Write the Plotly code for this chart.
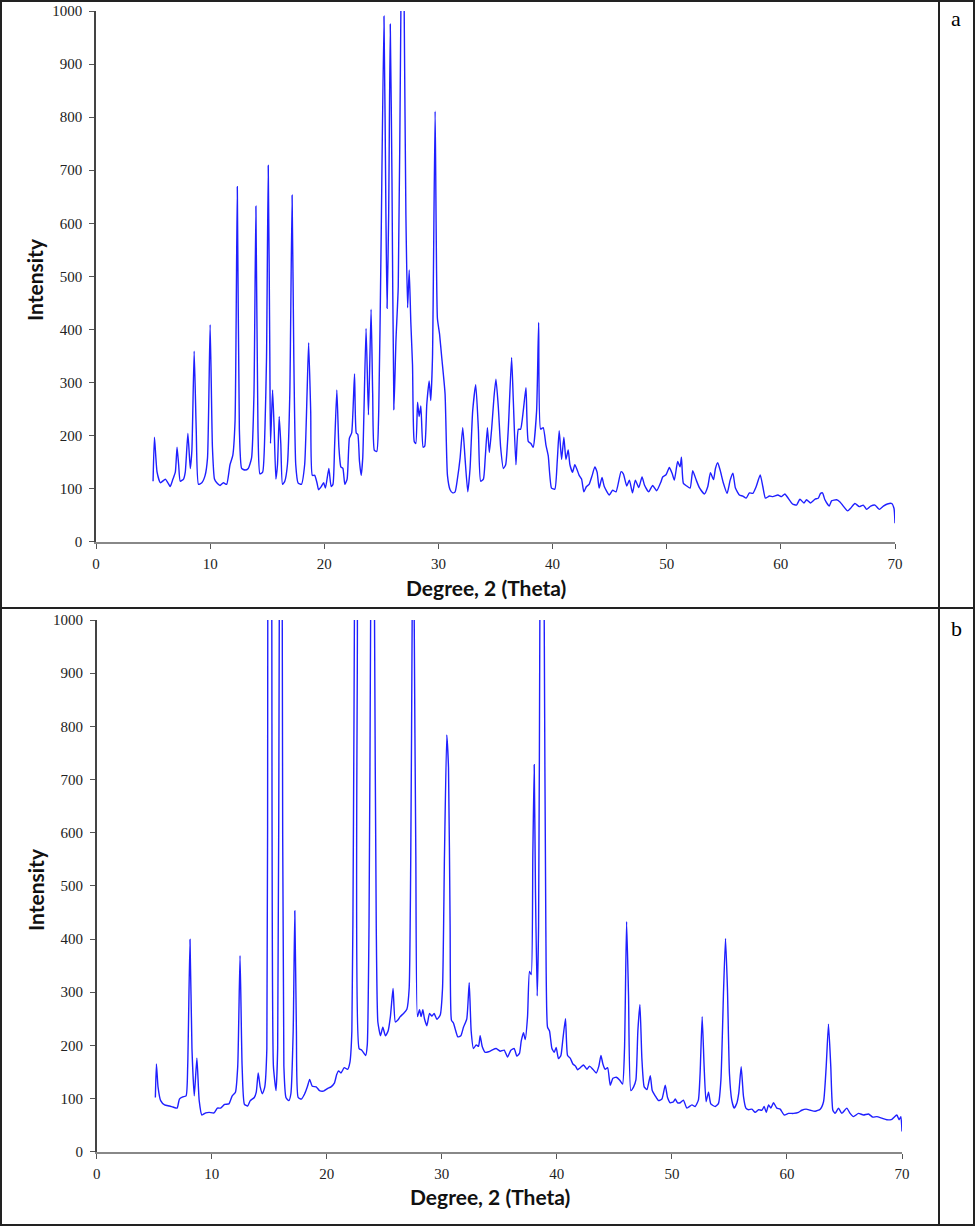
import plotly.graph_objects as go

# ---------------- data ----------------
a_x = [5.0, 5.12, 5.35, 5.64, 6.08, 6.3, 6.5, 6.74, 6.95, 7.1, 7.24, 7.38, 7.67, 7.82, 8.05, 8.26, 8.4, 8.6, 8.78,
       8.98, 9.27, 9.56, 9.77, 10.0, 10.2, 10.38, 10.58, 10.87, 11.16, 11.45, 11.74, 11.98, 12.18, 12.38, 12.56,
       12.76, 13.05, 13.34, 13.63, 13.84, 14.01, 14.19, 14.36, 14.6, 14.8, 14.94, 15.09, 15.23, 15.29, 15.47,
       15.61, 15.76, 15.9, 16.05, 16.19, 16.34, 16.54, 16.77, 16.98, 17.18, 17.33, 17.5, 17.7, 17.99, 18.28,
       18.49, 18.63, 18.81, 18.95, 19.16, 19.36, 19.5, 19.74, 19.94, 20.1, 20.4, 20.6, 20.76, 20.9, 21.1, 21.28,
       21.45, 21.63, 21.8, 22.0, 22.2, 22.4, 22.65, 22.8, 22.94, 23.08, 23.23, 23.37, 23.66, 23.87, 24.1, 24.24,
       24.39, 24.6, 24.77, 24.97, 25.23, 25.4, 25.5, 25.64, 25.78, 25.93, 26.1, 26.28, 26.48, 26.71, 26.85, 27.0,
       27.15, 27.3, 27.44, 27.58, 27.73, 27.88, 28.02, 28.17, 28.31, 28.46, 28.66, 28.8, 28.98, 29.19, 29.33,
       29.48, 29.71, 29.91, 30.1, 30.29, 30.58, 30.79, 31.02, 31.25, 31.46, 31.66, 31.9, 32.13, 32.33, 32.57,
       32.77, 33.0, 33.27, 33.5, 33.7, 33.94, 34.1, 34.29, 34.46, 34.66, 34.87, 35.04, 35.25, 35.45, 35.69,
       35.89, 36.12, 36.41, 36.56, 36.79, 37.0, 37.2, 37.43, 37.67, 37.87, 38.1, 38.3, 38.6, 38.78, 38.95, 39.18,
       39.42, 39.62, 39.91, 40.2, 40.41, 40.58, 40.79, 40.99, 41.17, 41.37, 41.52, 41.75, 41.95, 42.16, 42.33,
       42.54, 42.74, 42.97, 43.2, 43.47, 43.7, 43.9, 44.08, 44.33, 44.53, 44.97, 45.26, 45.56, 46.0, 46.2,
       46.5, 46.73, 47.0, 47.25, 47.55, 47.84, 48.05, 48.42, 48.77, 49.12, 49.5, 49.65, 49.94, 50.23, 50.47,
       50.67, 50.96, 51.17, 51.29, 51.46, 51.75, 52.05, 52.28, 52.57, 52.86, 53.3, 53.6, 53.83, 54.1, 54.27,
       54.47, 54.68, 54.97, 55.29, 55.56, 55.8, 56.02, 56.37, 56.67, 56.96, 57.25, 57.54, 57.84, 58.19, 58.42,
       58.65, 59.0, 59.3, 59.74, 60.06, 60.35, 60.64, 61.02, 61.37, 61.67, 62.02, 62.25, 62.6, 62.98, 63.27,
       63.48, 63.65, 63.86, 64.24, 64.44, 64.88, 65.18, 65.47, 65.85, 66.11, 66.49, 66.87, 67.22, 67.51, 67.87,
       68.25, 68.63, 68.98, 69.33, 69.71, 69.91, 70.0]
a_y = [114, 197, 131, 111, 118, 111, 104, 118, 131, 178, 145, 114, 118, 131, 204, 138, 172, 359, 212,
       108, 111, 125, 158, 409, 178, 118, 111, 106, 111, 108, 145, 162, 226, 669, 212,
       138, 135, 138, 158, 279, 632, 212, 128, 131, 212, 347, 709, 347, 185, 286,
       212, 118, 145, 236, 185, 108, 114, 145, 279, 653, 347, 145, 111, 108, 145,
       279, 375, 246, 125, 125, 111, 98, 104, 111, 101, 138, 104, 108, 178, 286, 178,
       141, 138, 108, 118, 195, 205, 316, 205, 202, 152, 125, 158, 402, 239, 438, 279,
       172, 170, 246, 549, 990, 616, 440, 616, 975, 684, 249, 380, 481, 1000, 1350, 1000,
       616, 441, 512, 414, 333, 189, 185, 263, 236, 256, 178, 180, 259, 303, 266,
       347, 811, 421, 391, 347, 279, 125, 98, 92, 94, 118, 158, 215, 158, 94,
       138, 246, 296, 212, 114, 118, 158, 215, 168, 212, 273, 306, 253, 178, 138,
       145, 212, 347, 266, 145, 212, 212, 246, 290, 189, 185, 178, 246, 413, 212, 215,
       182, 162, 101, 99, 152, 209, 155, 197, 155, 173, 145, 131, 145, 135, 125,
       118, 94, 104, 108, 125, 141, 131, 101, 121, 104, 88, 97, 94, 132, 128,
       105, 116, 92, 116, 102, 122, 107, 94, 106, 96, 113, 122, 126, 140, 129,
       116, 151, 141, 159, 110, 105, 101, 134, 117, 102, 90, 104, 130, 117, 138,
       149, 135, 110, 91, 116, 129, 101, 88, 86, 82, 92, 91, 104, 126, 104,
       82, 86, 85, 88, 85, 90, 82, 71, 69, 80, 73, 79, 73, 80, 82,
       91, 92, 79, 67, 77, 79, 75, 67, 58, 63, 72, 66, 69, 61, 67,
       69, 61, 67, 71, 72, 63, 35]

b_x = [5.1, 5.19, 5.33, 5.56, 5.9, 6.33, 6.62, 6.99, 7.19, 7.48, 7.77, 7.91, 8.11, 8.28, 8.48, 8.71, 8.91,
       9.14, 9.48, 9.77, 10.2, 10.49, 10.77, 11.12, 11.49, 11.78, 12.06, 12.26, 12.46, 12.64, 12.84, 13.12,
       13.35, 13.7, 13.87, 14.04, 14.21, 14.41, 14.61, 14.79, 14.87, 15.05, 15.22, 15.36, 15.59, 15.73, 15.87,
       16.0, 16.13, 16.27, 16.45, 16.7, 16.88, 17.08, 17.22, 17.36, 17.51, 17.79, 18.08, 18.31, 18.51, 18.74,
       19.08, 19.37, 19.71, 20.09, 20.37, 20.66, 20.86, 21.03, 21.23, 21.52, 21.81, 22.01, 22.18, 22.32, 22.4,
       22.53, 22.66, 22.81, 23.04, 23.38, 23.52, 23.67, 23.81, 23.98, 24.15, 24.3, 24.44, 24.67, 24.87, 25.1,
       25.33, 25.53, 25.76, 25.96, 26.2, 26.38, 26.67, 26.96, 27.16, 27.3, 27.42, 27.51, 27.6, 27.74, 27.88,
       28.06, 28.2, 28.35, 28.49, 28.7, 28.93, 29.13, 29.33, 29.57, 29.86, 30.06, 30.23, 30.43, 30.58, 30.72,
       30.84, 31.01, 31.16, 31.39, 31.65, 31.88, 32.17, 32.38, 32.55, 32.75, 32.99, 33.19, 33.33, 33.51, 33.77,
       34.06, 34.35, 34.72, 35.07, 35.42, 35.71, 36.0, 36.29, 36.52, 36.75, 36.9, 37.1, 37.25, 37.45, 37.62,
       37.77, 37.91, 38.03, 38.14, 38.29, 38.41, 38.52, 38.71, 38.9, 39.04, 39.19, 39.36, 39.57, 39.77, 39.94,
       40.14, 40.35, 40.52, 40.75, 40.93, 41.16, 41.39, 41.62, 41.8, 42.03, 42.32, 42.61, 42.84, 43.13, 43.42,
       43.65, 43.83, 44.0, 44.2, 44.41, 44.64, 44.87, 45.16, 45.45, 45.71, 45.88, 46.06, 46.23, 46.43, 46.67,
       46.87, 47.04, 47.22, 47.39, 47.59, 47.83, 48.12, 48.29, 48.55, 48.84, 49.13, 49.42, 49.62, 49.86, 50.14,
       50.29, 50.49, 50.72, 51.0, 51.3, 51.74, 52.02, 52.3, 52.45, 52.63, 52.8, 52.97, 53.18, 53.38, 53.76,
       54.05, 54.26, 54.49, 54.66, 54.83, 55.0, 55.2, 55.41, 55.64, 55.81, 56.02, 56.22, 56.43, 56.66, 56.95,
       57.24, 57.53, 57.82, 58.02, 58.2, 58.4, 58.6, 58.83, 59.12, 59.41, 59.76, 60.13, 60.57, 61.0, 61.29,
       61.67, 62.02, 62.45, 62.89, 63.18, 63.41, 63.61, 63.81, 63.99, 64.19, 64.48, 64.77, 65.2, 65.49, 65.78,
       66.22, 66.65, 67.09, 67.46, 67.81, 68.25, 68.68, 69.12, 69.55, 69.75, 69.9, 70.0]
b_y = [102, 165, 122, 96, 88, 86, 84, 82, 99, 103, 105, 161, 399, 194, 105, 176, 96,
       69, 73, 74, 73, 82, 82, 89, 90, 105, 112, 161, 369, 161, 89, 86,
       96, 102, 112, 148, 122, 109, 122, 194, 1000, 2400, 1000, 161, 115, 194, 1000,
       2400, 1000, 161, 102, 96, 109, 227, 453, 227, 102, 99, 109, 122, 136, 123,
       122, 115, 114, 119, 122, 129, 145, 152, 148, 158, 155, 168, 227, 623, 1000,
       2400, 1000, 194, 191, 181, 201, 425, 1000, 2400, 1000, 425, 244, 218, 234, 218,
       227, 254, 307, 244, 248, 254, 260, 268, 307, 557, 1000, 2400, 1000, 557, 254,
       267, 254, 267, 250, 237, 260, 255, 260, 249, 257, 307, 557, 784, 722, 425,
       247, 242, 231, 216, 218, 234, 250, 318, 227, 194, 201, 198, 218, 198, 187,
       188, 191, 194, 189, 191, 178, 191, 194, 180, 185, 208, 224, 211, 254, 339,
       333, 557, 728, 491, 293, 425, 1000, 2400, 1000, 425, 234, 227, 194, 187, 196,
       175, 181, 211, 250, 181, 176, 165, 161, 154, 158, 163, 155, 161, 155, 148,
       161, 181, 165, 155, 158, 125, 138, 140, 135, 127, 194, 433, 293, 115, 122,
       135, 227, 277, 175, 122, 117, 143, 115, 105, 96, 99, 125, 102, 92, 94,
       99, 92, 92, 97, 82, 88, 85, 97, 147, 254, 160, 94, 112, 90, 85,
       91, 135, 304, 401, 304, 147, 97, 82, 91, 110, 160, 104, 82, 79, 80,
       74, 79, 78, 85, 74, 88, 82, 92, 82, 80, 69, 72, 72, 74, 78,
       80, 78, 76, 80, 94, 160, 240, 160, 78, 72, 82, 72, 82, 72, 66,
       72, 69, 71, 65, 66, 63, 60, 61, 69, 60, 66, 38]

x_ticks = [0, 10, 20, 30, 40, 50, 60, 70]
y_ticks = [0, 100, 200, 300, 400, 500, 600, 700, 800, 900, 1000]
x_title = "Degree, 2 (Theta)"
y_title = "Intensity"
panel_labels = ["a", "b"]

# ---------------- figure ----------------
W, H = 975, 1226
LINE = "#1f1fff"
fig = go.Figure()
fig.add_trace(go.Scatter(x=a_x, y=a_y, mode="lines",
                         line=dict(color=LINE, width=1.4, shape="spline", smoothing=0.5),
                         xaxis="x", yaxis="y", showlegend=False))
fig.add_trace(go.Scatter(x=b_x, y=b_y, mode="lines",
                         line=dict(color=LINE, width=1.4, shape="spline", smoothing=0.5),
                         xaxis="x2", yaxis="y2", showlegend=False))

tickfont = dict(family="Liberation Serif, Times New Roman, serif", size=15, color="#222222")

def xax(domain, anchor):
    return dict(domain=domain, anchor=anchor, range=[0, 70], tickmode="array", tickvals=x_ticks,
                ticks="outside", ticklen=5, tickwidth=1, tickcolor="#555555",
                showline=True, linecolor="#888888", linewidth=2, showgrid=False, zeroline=False,
                tickfont=tickfont, ticklabelstandoff=2)

def yax(domain, anchor):
    return dict(domain=domain, anchor=anchor, range=[0, 1000], tickmode="array", tickvals=y_ticks,
                ticks="outside", ticklen=5, tickwidth=1, tickcolor="#555555",
                showline=True, linecolor="#444444", linewidth=1.5, showgrid=False, zeroline=False,
                tickfont=tickfont, ticklabelstandoff=4)

def px(v):
    return v / W

def py(v):
    return 1 - v / H

fig.update_layout(
    width=W, height=H, margin=dict(l=0, r=0, t=0, b=0),
    paper_bgcolor="white", plot_bgcolor="white", template="none",
    xaxis=xax([px(96), px(895)], "y"),
    yaxis=yax([py(541.7), py(11)], "x"),
    xaxis2=xax([px(96.7), px(902)], "y2"),
    yaxis2=yax([py(1151.7), py(620)], "x2"),
)

title_font = dict(family="Lato, Open Sans, sans-serif", size=21, color="#111111")
anns = [
    dict(text="<b>%s</b>" % y_title, x=px(35), y=py(280), textangle=-90),
    dict(text="<b>%s</b>" % x_title, x=px(486), y=py(587)),
    dict(text="<b>%s</b>" % y_title, x=px(35), y=py(890), textangle=-90),
    dict(text="<b>%s</b>" % x_title, x=px(490), y=py(1196)),
]
for a in anns:
    fig.add_annotation(xref="paper", yref="paper", showarrow=False, xanchor="center", yanchor="middle",
                       font=title_font, **a)
for lab, yy in zip(panel_labels, [18, 628]):
    fig.add_annotation(text=lab, xref="paper", yref="paper", x=px(956), y=py(yy), showarrow=False,
                       xanchor="center", yanchor="middle",
                       font=dict(family="Liberation Serif, Times New Roman, serif", size=22, color="#000000"))

border = dict(color="#222222", width=2)
fig.add_shape(type="rect", xref="paper", yref="paper", x0=px(1), x1=px(974), y0=py(1225), y1=py(1),
              line=border)
fig.add_shape(type="line", xref="paper", yref="paper", x0=0, x1=1, y0=py(608), y1=py(608), line=border)
fig.add_shape(type="line", xref="paper", yref="paper", x0=px(939), x1=px(939), y0=0, y1=1, line=border)

fig.write_html("out.html", config={"displayModeBar": False},
               post_script="document.body.style.margin='0';document.body.style.overflow='hidden';")
